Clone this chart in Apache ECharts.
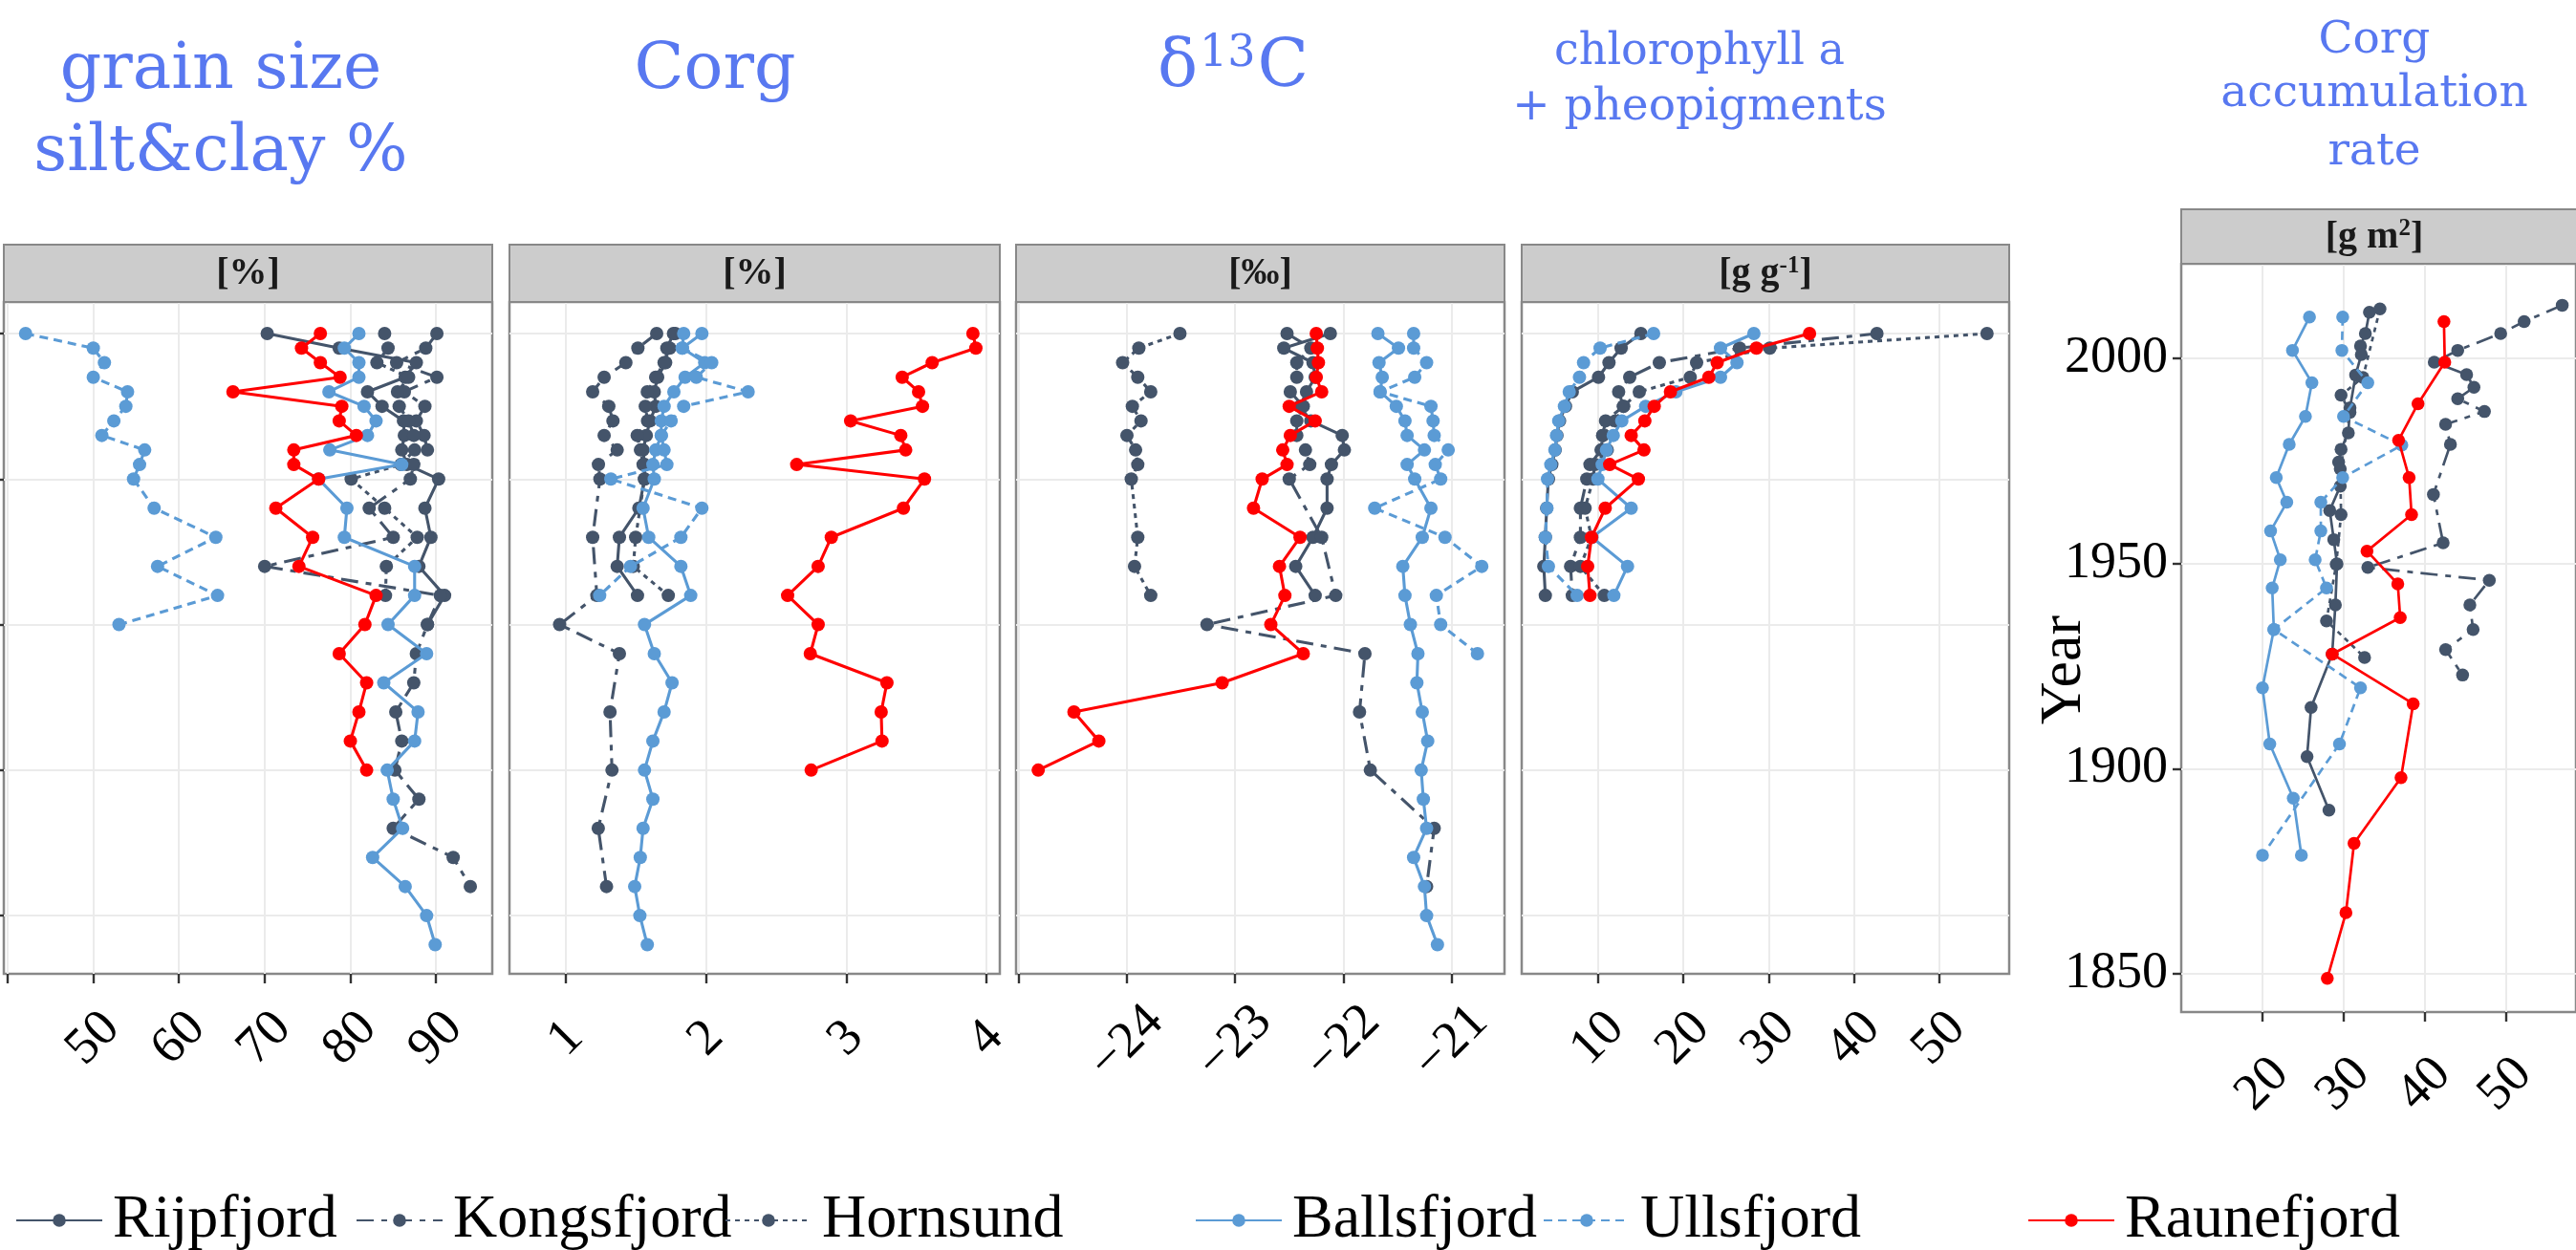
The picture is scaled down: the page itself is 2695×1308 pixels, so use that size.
<!DOCTYPE html>
<html><head><meta charset="utf-8">
<script src="https://cdn.jsdelivr.net/npm/echarts@6.0.0/dist/echarts.min.js"></script>
<style>html,body{margin:0;padding:0;background:#fff}#c{width:2695px;height:1308px}</style>
</head><body><div id="c"></div>
<script>
// ---------- categories ----------
const siteNames = ['Rijpfjord','Kongsfjord','Hornsund','Ballsfjord','Ullsfjord','Raunefjord'];

// ---------- depth levels (cm) ----------
const depthA      = [0,1,2,3,4,5,6,7,8,9,10,12,14,16,18];
const depthRijGS  = [0,1,2,3,4,5,6,7,8,9,10,12,14,16,18,20];
const depthKonGS  = [0,1,2,3,4,5,6,7,8,9,10,12,14,16,18,20,22,24,26,28,30,32,34,36,38];
const depthKon    = [0,1,2,3,4,5,6,7,8,9,10,14,18,20,22,26,30,34,38];
const depthHor    = [0,1,2,3,4,5,6,7,8,9,10,14,16,18];
const depthBal    = [0,1,2,3,4,5,6,7,8,9,10,12,14,16,18,20,22,24,26,28,30,32,34,36,38,40,42];
const depthUllGS  = [0,1,2,3,4,5,6,7,8,9,10,12,14,16,18,20];
const depthUllD13 = [0,1,2,3,4,5,6,7,8,9,10,12,14,16,18,20,22];
const depthRau    = [0,1,2,3,4,5,6,7,8,9,10,12,14,16,18,20,22,24,26,28,30];

// ---------- grain size silt&clay % ----------
const gsRij = [70.3,78.7,87.7,86.4,82.0,83.7,86.2,86.3,86.0,86.6,90.3,88.7,89.4,88.0,91.0,89.0];
const gsKon = [90.1,88.8,85.4,90.1,86.3,88.7,87.7,88.6,89.0,87.4,87.0,82.2,85.0,70.0,90.5,89.0,87.7,87.4,85.3,86.0,85.2,88.0,85.0,92.0,94.0];
const gsHor = [84.0,84.4,83.1,86.8,85.5,85.7,86.8,87.4,87.5,85.9,80.1,84.0,87.8,84.2,84.1];
const gsBal = [81.0,79.3,81.0,81.0,77.5,81.6,83.0,82.0,77.6,86.0,76.3,79.6,79.3,87.5,87.5,84.4,88.9,83.9,87.9,87.5,84.3,85.0,86.1,82.6,86.4,88.9,89.9];
const gsUll = [42.1,50.0,51.3,50.0,54.0,53.8,52.4,51.0,56.0,55.4,54.7,57.1,64.3,57.5,64.5,53.0];
const gsRau = [76.5,74.3,76.5,78.8,66.3,79.0,78.7,80.7,73.4,73.4,76.3,71.3,75.6,74.0,83.0,81.7,78.7,81.9,81.0,80.0,81.9];

// ---------- Corg % ----------
const cRij = [1.767,1.72,1.711,1.654,1.63,1.64,1.60,1.573,1.55,1.561,1.561,1.52,1.381,1.365,1.51];
const cKon = [1.647,1.513,1.427,1.272,1.19,1.305,1.335,1.272,1.365,1.231,1.242,1.19,1.22,0.954,1.381,1.314,1.328,1.23,1.289];
const cHor = [1.78,1.74,1.70,1.64,1.58,1.566,1.582,1.508,1.531,1.55,1.56,1.497,1.48,1.73];
const cBal = [1.97,1.83,1.99,1.85,1.77,1.70,1.68,1.68,1.64,1.62,1.63,1.55,1.59,1.82,1.89,1.56,1.63,1.757,1.70,1.62,1.56,1.62,1.55,1.53,1.49,1.527,1.58];
const cUll = [1.84,1.83,2.04,1.93,2.30,1.84,1.75,1.68,1.70,1.72,1.32,1.97,1.82,1.46,1.24];
const cRau = [3.905,3.926,3.614,3.40,3.517,3.545,3.032,3.39,3.425,2.647,3.559,3.409,2.894,2.80,2.582,2.80,2.744,3.291,3.25,3.256,2.75];

// ---------- d13C permil ----------
const dRij = [-22.12,-22.55,-22.28,-22.26,-22.34,-22.40,-22.30,-22.01,-21.99,-22.11,-22.15,-22.15,-22.28,-22.44,-22.26];
const dKon = [-22.52,-22.30,-22.43,-22.43,-22.49,-22.37,-22.43,-22.43,-22.35,-22.31,-22.50,-22.20,-22.07,-23.26,-21.80,-21.85,-21.75,-21.16,-21.23];
const dHor = [-23.51,-23.89,-24.04,-23.90,-23.78,-23.95,-23.87,-24.00,-23.92,-23.90,-23.96,-23.90,-23.93,-23.78];
const dBal = [-21.68,-21.49,-21.67,-21.64,-21.66,-21.51,-21.43,-21.41,-21.25,-21.41,-21.34,-21.19,-21.27,-21.45,-21.43,-21.38,-21.31,-21.32,-21.27,-21.22,-21.28,-21.26,-21.23,-21.35,-21.25,-21.23,-21.13];
const dUll = [-21.35,-21.35,-21.23,-21.34,-21.66,-21.19,-21.17,-21.16,-21.03,-21.15,-21.10,-21.71,-21.06,-20.72,-21.14,-21.10,-20.76];
const dRau = [-22.25,-22.24,-22.23,-22.25,-22.20,-22.50,-22.26,-22.49,-22.56,-22.52,-22.75,-22.83,-22.40,-22.59,-22.54,-22.67,-22.37,-23.12,-24.49,-24.26,-24.82];

// ---------- chlorophyll a + pheopigments ----------
const chRij = [15.04,12.72,11.3,10.07,7.0,6.2,5.5,5.2,5.0,4.6,4.2,4.0,3.84,3.66,3.84];
const chKon = [42.7,26.6,17.2,13.73,12.43,13.0,10.9,10.56,10.37,9.07,8.7,7.95,7.95,6.8,7.0];
const chHor = [55.6,30.15,21.57,20.82,14.85,13.0,12.05,10.56,11.1,9.63,9.44,8.5,9.25,7.95,10.75];
const chBal = [28.28,24.37,26.3,24.37,19.14,15.6,12.8,11.8,11.0,10.5,10.0,13.9,9.3,13.47,11.87];
const chUll = [16.53,10.26,8.32,7.84,6.64,6.08,5.41,5.15,4.96,4.48,4.1,4.03,3.84,4.2,7.57];
const chRau = [34.8,28.58,23.98,23.0,18.5,16.6,15.5,13.9,15.4,11.38,14.74,10.86,9.25,8.8,9.07];

// ---------- Corg accumulation rate vs year ----------
const arRijX = [33.2,32.7,32.1,32.2,31.5,30.8,30.6,29.7,29.4,29.6,28.3,28.8,29.2,29.0,28.6,26.0,25.5,28.2];
const arRijY = [2011.2,2006.0,2003.0,2000.9,1995.9,1987.9,1981.8,1977.8,1974.7,1968.8,1962.9,1955.8,1949.9,1939.9,1927.9,1914.9,1902.9,1889.9];
const arKonX = [57.0,52.3,49.4,44.1,41.2,45.2,46.1,44.1,47.4,42.6,43.2,41.1,42.3,33.0,48.0,45.6,46.0,42.6,44.7];
const arKonY = [2012.9,2008.9,2006.0,2001.9,1999.0,1996.0,1992.9,1990.1,1987.0,1983.9,1979.0,1966.8,1955.0,1949.0,1945.9,1939.9,1933.9,1929.0,1922.8];
const arHorX = [34.5,32.4,29.7,30.8,29.6,29.7,29.1,27.9,32.6];
const arHorY = [2012.0,1995.3,1991.0,1986.8,1973.0,1961.9,1949.8,1936.0,1927.1];
const arBalX = [25.8,23.7,26.1,25.3,23.3,21.7,23.0,21.0,22.2,21.2,21.4,20.0,20.9,23.8,24.8];
const arBalY = [2010.0,2001.9,1994.0,1985.8,1979.0,1970.9,1964.9,1957.9,1950.9,1944.0,1933.9,1919.7,1906.0,1892.8,1878.9];
const arUllX = [29.9,29.8,33.0,30.0,37.2,29.9,27.2,27.2,26.5,27.9,21.4,32.1,29.5,20.0];
const arUllY = [2010.0,2001.9,1994.0,1985.8,1978.8,1970.9,1964.9,1957.9,1950.9,1944.0,1933.9,1919.7,1906.0,1878.9];
const arRauX = [42.4,42.5,39.2,36.8,38.1,38.4,32.9,36.7,37.0,28.6,38.6,37.1,31.3,30.3,28.0];
const arRauY = [2008.9,1999.0,1988.9,1980.0,1970.9,1961.9,1953.0,1945.0,1936.8,1927.9,1915.8,1897.8,1881.8,1864.9,1848.9];

// ---------- tick labels ----------
const depthTicks = [0,10,20,30,40];
const gsTicks = [40,50,60,70,80,90];   const gsLabels = [50,60,70,80,90];
const corgTicks = [1,2,3,4];
const d13Ticks = [-25,-24,-23,-22,-21]; const d13Labels = [-24,-23,-22,-21];
const chlTicks = [10,20,30,40,50];
const accTicks = [20,30,40,50];
const yearTicks = [1850,1900,1950,2000];

// ---------- styling ----------
const DARK = '#44546A', LIGHT = '#5B9BD5', RED = '#FF0000';
const siteStyle = {
  Rijpfjord:  {color: DARK,  dash: 'solid'},
  Kongsfjord: {color: DARK,  dash: [18,8,6,8]},
  Hornsund:   {color: DARK,  dash: [5,5]},
  Ballsfjord: {color: LIGHT, dash: 'solid'},
  Ullsfjord:  {color: LIGHT, dash: [9,6]},
  Raunefjord: {color: RED,   dash: 'solid'}
};
const SERIF = 'Liberation Serif';
const TITLEFONT = '"DejaVu Serif"';
const GRID_C = '#ebebeb';

function pairs(vals, deps) { return vals.map((v, i) => [v, deps[i]]); }

const depthPanels = [
  {Rijpfjord:[gsRij,depthRijGS], Kongsfjord:[gsKon,depthKonGS], Hornsund:[gsHor,depthA], Ballsfjord:[gsBal,depthBal], Ullsfjord:[gsUll,depthUllGS], Raunefjord:[gsRau,depthRau]},
  {Rijpfjord:[cRij,depthA], Kongsfjord:[cKon,depthKon], Hornsund:[cHor,depthHor], Ballsfjord:[cBal,depthBal], Ullsfjord:[cUll,depthA], Raunefjord:[cRau,depthRau]},
  {Rijpfjord:[dRij,depthA], Kongsfjord:[dKon,depthKon], Hornsund:[dHor,depthHor], Ballsfjord:[dBal,depthBal], Ullsfjord:[dUll,depthUllD13], Raunefjord:[dRau,depthRau]},
  {Rijpfjord:[chRij,depthA], Kongsfjord:[chKon,depthA], Hornsund:[chHor,depthA], Ballsfjord:[chBal,depthA], Ullsfjord:[chUll,depthA], Raunefjord:[chRau,depthA]}
];
const accPanel = {
  Rijpfjord:[arRijX,arRijY], Kongsfjord:[arKonX,arKonY], Hornsund:[arHorX,arHorY],
  Ballsfjord:[arBalX,arBalY], Ullsfjord:[arUllX,arUllY], Raunefjord:[arRauX,arRauY]
};

const series = [];
depthPanels.forEach((p, gi) => {
  siteNames.forEach((n, si) => {
    const st = siteStyle[n];
    series.push({
      type: 'line', name: n, xAxisIndex: gi, yAxisIndex: gi,
      data: pairs(p[n][0], p[n][1]),
      symbol: 'circle', symbolSize: 14, showSymbol: true,
      lineStyle: {color: st.color, width: 3.1, type: st.dash},
      itemStyle: {color: st.color},
      emphasis: {disabled: true}, z: 2 + si, animation: false
    });
  });
});
siteNames.forEach((n, si) => {
  const st = siteStyle[n];
  series.push({
    type: 'line', name: n, xAxisIndex: 4, yAxisIndex: 4,
    data: pairs(accPanel[n][0], accPanel[n][1]),
    symbol: 'circle', symbolSize: 13.5, showSymbol: true,
    lineStyle: {color: st.color, width: 2.7, type: st.dash},
    itemStyle: {color: st.color},
    emphasis: {disabled: true}, z: 2 + si, animation: false
  });
});

function fmtMinus(v) { return String(v).replace('-', '\u2212'); }
function makeX(gi, min, max, ticks, labels, unit, margin) {
  return {
    type: 'value', gridIndex: gi, min: min, max: max, minInterval: unit, maxInterval: unit,
    axisLine: {show: false, onZero: false},
    axisTick: {show: true, customValues: ticks, length: 10, lineStyle: {color: '#333', width: 2.4}},
    axisLabel: {show: true, customValues: labels, rotate: 45, margin: margin, align: 'center', verticalAlign: 'middle',
      fontFamily: SERIF, fontSize: 54, color: '#000', formatter: fmtMinus},
    splitLine: {show: true, lineStyle: {color: GRID_C, width: 2}}
  };
}
function makeYDepth(gi, showTicks) {
  return {
    type: 'value', gridIndex: gi, inverse: true, min: -2.17, max: 44.0, minInterval: 10, maxInterval: 10,
    axisLine: {show: false, onZero: false},
    axisTick: {show: showTicks, customValues: depthTicks, length: 8, lineStyle: {color: '#333', width: 2.4}},
    axisLabel: {show: false, customValues: depthTicks},
    splitLine: {show: true, lineStyle: {color: GRID_C, width: 2}}
  };
}

const gridBase = {show: true, borderColor: '#888', borderWidth: 2.5, backgroundColor: '#fff'};
const grids = [
  {left: 4,    top: 316, width: 511, height: 703},
  {left: 533,  top: 316, width: 513, height: 703},
  {left: 1063, top: 316, width: 511, height: 703},
  {left: 1592, top: 316, width: 510, height: 703},
  {left: 2282, top: 276, width: 418, height: 783}
].map(g => Object.assign({}, gridBase, g));

// strips
const stripDefs = [
  {x: 4,    w: 511, y: 256, h: 60, text: '{n|[%]}'},
  {x: 533,  w: 513, y: 256, h: 60, text: '{n|[%]}'},
  {x: 1063, w: 511, y: 256, h: 60, text: '{n|[\u2030]}'},
  {x: 1592, w: 510, y: 256, h: 60, text: '{n|[g g}{s|-1}{n|]}'},
  {x: 2282, w: 418, y: 219, h: 57, text: '{n|[g m}{s|2}{n|]}', cx: 2484}
];
const stripRich = {
  n: {fontSize: 40, fontWeight: 'bold', fontFamily: SERIF, fill: '#1a1a1a'},
  s: {fontSize: 25, fontWeight: 'bold', fontFamily: SERIF, fill: '#1a1a1a', padding: [0, 0, 17, 0]}
};
const graphic = [];
stripDefs.forEach(s => {
  graphic.push({type: 'rect', shape: {x: s.x, y: s.y, width: s.w, height: s.h},
    style: {fill: '#cccccc', stroke: '#888', lineWidth: 2}, z: 10});
  graphic.push({type: 'text', x: s.cx || (s.x + s.w / 2), y: s.y + s.h / 2 + 1, z: 11,
    style: {text: s.text, rich: stripRich, align: 'center', verticalAlign: 'middle'}});
});

// panel titles
const TBLUE = '#5878f0';
function title(text, x, y, size) {
  return {type: 'text', x: x, y: y, z: 11,
    style: {text: text, fill: TBLUE, font: size + 'px ' + TITLEFONT, align: 'center', verticalAlign: 'middle'}};
}
graphic.push(title('grain size', 231, 74, 68));
graphic.push(title('silt&clay %', 231, 160, 68));
graphic.push(title('Corg', 748, 74, 68));
graphic.push({type: 'text', x: 1290, y: 72, z: 11, style: {
  text: '{a|\u03b4}{s|13}{a|C}', align: 'center', verticalAlign: 'middle',
  rich: {a: {fontSize: 70, fontFamily: 'DejaVu Serif', fill: TBLUE},
         s: {fontSize: 46, fontFamily: 'DejaVu Serif', fill: TBLUE, padding: [0, 2, 30, 2]}}}});
graphic.push(title('chlorophyll a', 1778, 55, 46));
graphic.push(title('+ pheopigments', 1778, 113, 47));
graphic.push(title('Corg', 2484, 43, 47));
graphic.push(title('accumulation', 2484, 99, 47));
graphic.push(title('rate', 2484, 160, 47));
// Year axis name
graphic.push({type: 'text', x: 2160, y: 701, rotation: Math.PI / 2, z: 11,
  style: {text: 'Year', fill: '#000', font: '62px "' + SERIF + '"', align: 'center', verticalAlign: 'middle'}});

// legends
const legendLeft = [11, 367, 753, 1245, 1609, 2116];
const legends = siteNames.map((n, i) => ({
  data: [n], left: legendLeft[i], top: 1240, orient: 'horizontal',
  itemWidth: 90, itemHeight: 17, itemGap: 0, selectedMode: false,
  textStyle: {fontFamily: SERIF, fontSize: 64, color: '#000', padding: [0, 0, 0, 6]}
}));

const option = {
  animation: false,
  backgroundColor: '#fff',
  textStyle: {fontFamily: SERIF},
  grid: grids,
  xAxis: [
    makeX(0, 39.56, 96.56, gsTicks, gsLabels, 10, 68),
    makeX(1, 0.596, 4.097, corgTicks, corgTicks, 1, 68),
    makeX(2, -25.025, -20.51, d13Ticks, d13Labels, 1, 72),
    makeX(3, 1.07, 58.2, chlTicks, chlTicks, 10, 68),
    makeX(4, 9.97, 58.7, accTicks, accTicks, 10, 76)
  ],
  yAxis: [
    makeYDepth(0, true), makeYDepth(1, false), makeYDepth(2, false), makeYDepth(3, false),
    {
      type: 'value', gridIndex: 4, min: 1840.7, max: 2023.0, minInterval: 50, maxInterval: 50,
      axisLine: {show: false, onZero: false},
      axisTick: {show: true, customValues: yearTicks, length: 9, lineStyle: {color: '#333', width: 2.4}},
      axisLabel: {show: true, customValues: yearTicks, margin: 14, fontFamily: SERIF, fontSize: 54, color: '#000',
        formatter: v => String(v)},
      splitLine: {show: true, lineStyle: {color: GRID_C, width: 2}}
    }
  ],
  legend: legends,
  graphic: graphic,
  series: series
};

const chart = echarts.init(document.getElementById('c'), null, {renderer: 'canvas'});
chart.setOption(option);
</script></body></html>
